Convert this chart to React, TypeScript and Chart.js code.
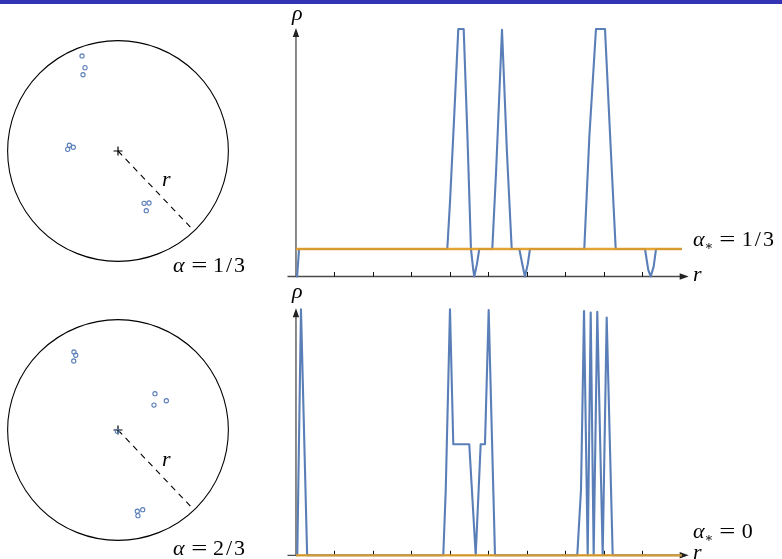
import React, { useEffect, useRef } from "react";
import { Chart, registerables } from "chart.js";

Chart.register(...registerables);

// ---------- data ----------
// density profile rho(r), top panel (alpha = 1/3)
const topR = [0, 0.03, 0.08, 3.93, 4.0, 4.1, 4.216, 4.356, 4.45, 4.545, 4.6, 4.631, 4.7, 4.761, 5.099, 5.2, 5.351, 5.48, 5.603, 5.8, 5.9, 5.948, 6.02, 6.078, 7.488, 7.62, 7.792, 8.026, 8.17, 8.304, 9.065, 9.15, 9.213, 9.29, 9.351, 10.02];
const topRho = [0, 0, 0.333, 0.333, 0.9, 1.85, 3, 3, 1.75, 0.333, 0.1, 0, 0.15, 0.333, 0.333, 1.3, 2.99, 1.5, 0.333, 0.333, 0.1, 0, 0.15, 0.333, 0.333, 1.7, 3, 3, 1.6, 0.333, 0.333, 0.08, 0, 0.12, 0.333, 0.333];
const topAlphaStar = 1 / 3;

// density profile rho(r), bottom panel (alpha = 2/3)
const bottomR = [0, 0.034, 0.13, 0.29, 3.826, 3.89, 4.0, 4.086, 4.501, 4.668, 4.797, 4.909, 5.005, 5.125, 5.169, 7.306, 7.403, 7.447, 7.481, 7.577, 7.655, 7.732, 7.826, 7.966, 8.07, 8.226, 10.02];
const bottomRho = [0, 0, 3.0, 0, 0, 0.8, 3.0, 1.354, 1.354, 0, 1.354, 1.354, 2.99, 0.8, 0, 0, 0.8, 2.0, 2.98, 0, 2.96, 0, 2.97, 0, 2.9, 0, 0];
const bottomAlphaStar = 0;

const rTicks = [1, 2, 3, 4, 5, 6, 7, 8, 9];
const rStart = 0;
const rEnd = 10.02;
const rAxisMin = -0.22;
const rAxisMax = 10.2;
const rhoMax = 3;

// particle positions in the unit disk
const disk1X = [-0.326, -0.299, -0.317, -0.456, -0.441, -0.405, 0.236, 0.281, 0.256];
const disk1Y = [0.861, 0.755, 0.691, 0.015, 0.052, 0.034, -0.474, -0.471, -0.541];
const disk2X = [-0.399, -0.383, -0.401, 0.335, 0.326, 0.438, -0.006, 0.175, 0.224, 0.181];
const disk2Y = [0.707, 0.677, 0.625, 0.329, 0.226, 0.265, -0.012, -0.736, -0.722, -0.776];
const radiusEnd = { x: 0.685, y: -0.72 };

const BLUE = "#5A7FB8";
const ORANGE = "rgba(225,156,36,0.92)";
const AXIS = "#4a4a4a";

// ---------- charts ----------
type Pad = { left: number; right: number; top: number; bottom: number };

function ProfileChart(props: {
  rs: number[];
  rhos: number[];
  alphaStar: number;
  left: number;
  top: number;
  width: number;
  height: number;
  padding: Pad;
}) {
  const ref = useRef<HTMLCanvasElement>(null);
  useEffect(() => {
    const axesPlugin = {
      id: "axesArrows",
      beforeDatasetsDraw(chart: any) {
        const { ctx, chartArea } = chart;
        const x = chart.scales.x;
        const y = chart.scales.y;
        const y0 = y.getPixelForValue(0);
        const x0 = x.getPixelForValue(0);
        const xl = x.getPixelForValue(rAxisMin);
        const xr = x.getPixelForValue(rAxisMax);
        const yt = chartArea.top - 1;
        ctx.save();
        ctx.strokeStyle = AXIS;
        ctx.fillStyle = "#222";
        ctx.lineWidth = 1.3;
        ctx.beginPath();
        ctx.moveTo(xl, y0);
        ctx.lineTo(xr - 6, y0);
        ctx.stroke();
        ctx.beginPath();
        ctx.moveTo(xr, y0);
        ctx.lineTo(xr - 9, y0 - 3.2);
        ctx.lineTo(xr - 9, y0 + 3.2);
        ctx.closePath();
        ctx.fill();
        ctx.beginPath();
        ctx.moveTo(x0, y0 + 0.5);
        ctx.lineTo(x0, yt + 6);
        ctx.stroke();
        ctx.beginPath();
        ctx.moveTo(x0, yt);
        ctx.lineTo(x0 - 3.2, yt + 9);
        ctx.lineTo(x0 + 3.2, yt + 9);
        ctx.closePath();
        ctx.fill();
        ctx.strokeStyle = "#111";
        ctx.lineWidth = 1;
        for (const t of rTicks) {
          const px = Math.round(x.getPixelForValue(t)) + 0.5;
          ctx.beginPath();
          ctx.moveTo(px, y0);
          ctx.lineTo(px, y0 - 4.5);
          ctx.stroke();
        }
        ctx.restore();
      },
    };
    const chart = new Chart(ref.current as HTMLCanvasElement, {
      type: "line",
      data: {
        datasets: [
          {
            data: [
              { x: rStart, y: props.alphaStar },
              { x: rEnd, y: props.alphaStar },
            ],
            borderColor: ORANGE,
            borderWidth: 2.3,
            pointRadius: 0,
            clip: false,
            order: 0,
          } as any,
          {
            data: props.rs.map((r, i) => ({ x: r, y: props.rhos[i] })),
            borderColor: BLUE,
            borderWidth: 2.1,
            pointRadius: 0,
            clip: false,
            order: 1,
          } as any,
        ],
      },
      options: {
        animation: false,
        responsive: false,
        maintainAspectRatio: false,
        events: [],
        layout: { padding: props.padding, autoPadding: false } as any,
        elements: { line: { tension: 0, borderJoinStyle: "round" as any } },
        plugins: { legend: { display: false }, tooltip: { enabled: false } },
        scales: {
          x: { type: "linear", min: rAxisMin, max: rAxisMax, display: false },
          y: { type: "linear", min: 0, max: rhoMax, display: false },
        },
      },
      plugins: [axesPlugin],
    });
    return () => chart.destroy();
  }, []);
  return (
    <canvas
      ref={ref}
      width={props.width}
      height={props.height}
      style={{ position: "absolute", left: props.left, top: props.top, width: props.width, height: props.height }}
    />
  );
}

function DiskChart(props: { xs: number[]; ys: number[]; left: number; top: number; size: number }) {
  const ref = useRef<HTMLCanvasElement>(null);
  useEffect(() => {
    const circlePlugin = {
      id: "diskOutline",
      beforeDatasetsDraw(chart: any) {
        const { ctx } = chart;
        const x = chart.scales.x;
        const y = chart.scales.y;
        const cx = x.getPixelForValue(0);
        const cy = y.getPixelForValue(0);
        const R = x.getPixelForValue(1) - cx;
        ctx.save();
        ctx.strokeStyle = "#000";
        ctx.lineWidth = 1.1;
        ctx.beginPath();
        ctx.arc(cx, cy, R, 0, Math.PI * 2);
        ctx.stroke();
        ctx.restore();
      },
    };
    const chart = new Chart(ref.current as HTMLCanvasElement, {
      type: "scatter",
      data: {
        datasets: [
          {
            data: props.xs.map((v, i) => ({ x: v, y: props.ys[i] })),
            pointStyle: "circle",
            pointRadius: 2.1,
            pointBorderWidth: 1.1,
            borderColor: BLUE,
            backgroundColor: "rgba(255,255,255,0)",
          } as any,
          {
            data: [{ x: 0, y: 0 }],
            pointStyle: "cross",
            pointRadius: 4.5,
            pointBorderWidth: 1.2,
            borderColor: "#000",
            backgroundColor: "#000",
          } as any,
          {
            data: [{ x: 0, y: 0 }, radiusEnd],
            showLine: true,
            borderColor: "#000",
            borderWidth: 1.1,
            borderDash: [6, 5],
            pointRadius: 0,
          } as any,
        ],
      },
      options: {
        animation: false,
        responsive: false,
        maintainAspectRatio: false,
        events: [],
        layout: { padding: 0, autoPadding: false } as any,
        plugins: { legend: { display: false }, tooltip: { enabled: false } },
        scales: {
          x: { type: "linear", min: -1.06, max: 1.06, display: false },
          y: { type: "linear", min: -1.06, max: 1.06, display: false },
        },
      },
      plugins: [circlePlugin],
    });
    return () => chart.destroy();
  }, []);
  return (
    <canvas
      ref={ref}
      width={props.size}
      height={props.size}
      style={{ position: "absolute", left: props.left, top: props.top, width: props.size, height: props.size }}
    />
  );
}

const textBase: React.CSSProperties = {
  position: "absolute",
  fontFamily: '"Liberation Serif", "DejaVu Serif", serif',
  fontSize: 22,
  lineHeight: "22px",
  whiteSpace: "nowrap",
  color: "#000",
};

function Label(props: { left: number; top: number; children: React.ReactNode }) {
  return <div style={{ ...textBase, left: props.left, top: props.top }}>{props.children}</div>;
}

const Star = () => (
  <span style={{ fontSize: 13, position: "relative", top: 4, marginLeft: 0, fontStyle: "normal" }}>∗</span>
);
const Eq = () => <span style={{ margin: "0 8px", display: "inline-block", transform: "scaleX(1.3)" }}>=</span>;
const Num = (p: { children: React.ReactNode }) => <span style={{ letterSpacing: 2 }}>{p.children}</span>;

export default function App() {
  return (
    <div style={{ position: "fixed", left: 0, top: 0, width: 782, height: 559, background: "#fff", overflow: "hidden" }}>
      <div style={{ position: "absolute", left: 0, top: 0, width: 782, height: 4, background: "#3333B3" }} />

      <DiskChart xs={disk1X} ys={disk1Y} left={1} top={34} size={234} />
      <DiskChart xs={disk2X} ys={disk2Y} left={1} top={313} size={234} />

      <ProfileChart
        rs={topR}
        rhos={topRho}
        alphaStar={topAlphaStar}
        left={280}
        top={0}
        width={430}
        height={290}
        padding={{ left: 7.5, right: 21.3, top: 29, bottom: 13.5 }}
      />
      <ProfileChart
        rs={bottomR}
        rhos={bottomRho}
        alphaStar={bottomAlphaStar}
        left={280}
        top={290}
        width={430}
        height={269}
        padding={{ left: 7.5, right: 21.3, top: 19.3, bottom: 3.7 }}
      />

      <Label left={292} top={2}><i>ρ</i></Label>
      <Label left={292} top={280}><i>ρ</i></Label>
      <Label left={693} top={263}><i>r</i></Label>
      <Label left={693} top={541}><i>r</i></Label>
      <Label left={693} top={228}>
        <i>α</i><Star /><Eq /><Num>1/3</Num>
      </Label>
      <Label left={693} top={520}>
        <i>α</i><Star /><Eq /><Num>0</Num>
      </Label>
      <Label left={173} top={254}>
        <i>α</i><Eq /><Num>1/3</Num>
      </Label>
      <Label left={173} top={537}>
        <i>α</i><Eq /><Num>2/3</Num>
      </Label>
      <Label left={162} top={168}><i>r</i></Label>
      <Label left={162} top={448}><i>r</i></Label>
    </div>
  );
}
